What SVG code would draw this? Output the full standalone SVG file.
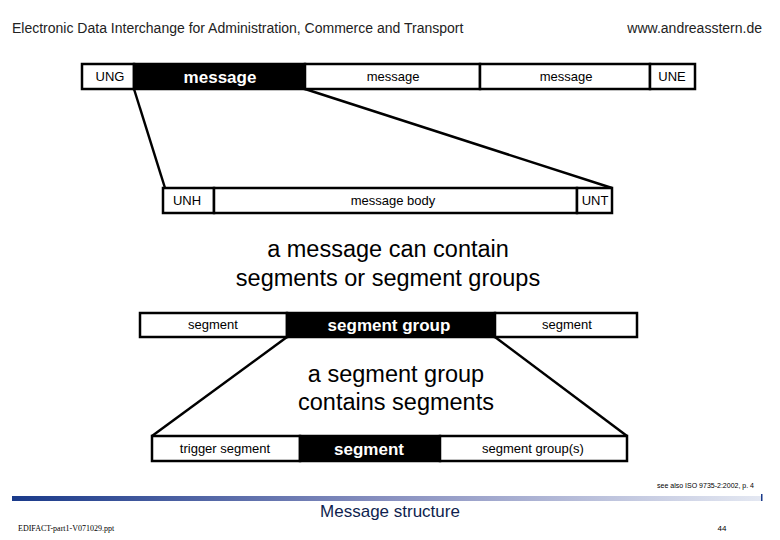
<svg xmlns="http://www.w3.org/2000/svg" width="780" height="540" viewBox="0 0 780 540">
<defs>
<linearGradient id="g" x1="0" x2="1"><stop offset="0" stop-color="#1a3a8a"/><stop offset="0.5" stop-color="#8890c0"/><stop offset="1" stop-color="#e4e8f2"/></linearGradient>
<style>
.b{fill:#fff;stroke:#000;stroke-width:2.5}
.k{fill:#000;stroke:#000;stroke-width:2.5}
text{font-family:"Liberation Sans",Arial,sans-serif;text-anchor:middle}
.s{font-size:13px;fill:#000}
.w{font-size:17px;fill:#fff;font-weight:bold}
.t{font-size:23.5px;fill:#000}
.c line{stroke:#000;stroke-width:2.5}
</style>
</defs>
<rect width="780" height="540" fill="#fff"/>
<text x="12" y="33" style="font-size:14px;text-anchor:start;fill:#222">Electronic Data Interchange for Administration, Commerce and Transport</text>
<text x="762" y="33" style="font-size:14px;text-anchor:end;fill:#222">www.andreasstern.de</text>
<g class="c">
<line x1="134" y1="89" x2="165" y2="188"/><line x1="305" y1="89" x2="612" y2="188"/>
<line x1="287" y1="337" x2="152" y2="436"/><line x1="495" y1="337" x2="627" y2="436"/>
</g>
<g id="row1">
<rect class="b" x="82" y="64" width="52" height="25"/><text class="s" x="110" y="81">UNG</text>
<rect class="k" x="134" y="64" width="171" height="25"/><text class="w" x="220" y="83">message</text>
<rect class="b" x="305" y="64" width="175" height="25"/><text class="s" x="393" y="81">message</text>
<rect class="b" x="480" y="64" width="170" height="25"/><text class="s" x="566" y="81">message</text>
<rect class="b" x="650" y="64" width="45" height="25"/><text class="s" x="672" y="81">UNE</text>
</g>
<g id="row2">
<rect class="b" x="163" y="188" width="51" height="25"/><text class="s" x="187" y="205">UNH</text>
<rect class="b" x="214" y="188" width="363" height="25"/><text class="s" x="393" y="205">message body</text>
<rect class="b" x="577" y="188" width="35" height="25"/><text class="s" x="595" y="205">UNT</text>
</g>
<g id="text1"><text class="t" x="388" y="257">a message can contain</text><text class="t" x="388" y="286">segments or segment groups</text></g>
<g id="row3">
<rect class="b" x="140" y="313" width="147" height="24"/><text class="s" x="213" y="329">segment</text>
<rect class="k" x="287" y="313" width="208" height="24"/><text class="w" x="389" y="331">segment group</text>
<rect class="b" x="495" y="313" width="142" height="24"/><text class="s" x="567" y="329">segment</text>
</g>
<g id="text2"><text class="t" x="396" y="382">a segment group</text><text class="t" x="396" y="410">contains segments</text></g>
<g id="row4">
<rect class="b" x="152" y="436" width="148" height="25"/><text class="s" x="225" y="453">trigger segment</text>
<rect class="k" x="300" y="436" width="140" height="25"/><text class="w" x="369" y="455">segment</text>
<rect class="b" x="440" y="436" width="187" height="25"/><text class="s" x="533" y="453">segment group(s)</text>
</g>
<text x="754" y="488" style="font-size:7px;text-anchor:end">see also ISO 9735-2:2002, p. 4</text>
<rect x="12" y="496" width="750" height="5" fill="url(#g)"/>
<rect x="761" y="494" width="1.5" height="7" fill="#1a3a8a"/>
<text x="390" y="517" style="font-size:17px;fill:#0f1f4f">Message structure</text>
<text x="18" y="531" style="font-family:'Liberation Serif',serif;font-size:8px;text-anchor:start">EDIFACT-part1-V071029.ppt</text>
<text x="722" y="531" style="font-size:8px">44</text>
</svg>
